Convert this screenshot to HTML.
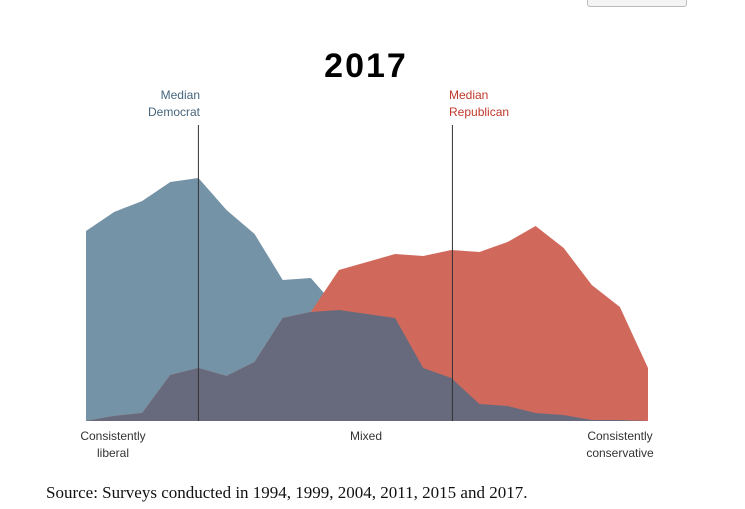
<!DOCTYPE html>
<html><head><meta charset="utf-8"><style>
body{margin:0;background:#fff;width:745px;height:509px;overflow:hidden;position:relative;font-family:"Liberation Sans",sans-serif}
.t{position:absolute;font-size:12px;color:#333;line-height:17px}
</style></head><body>
<div style="position:absolute;left:587px;top:-4px;width:98px;height:9px;border:1px solid #bbb;border-radius:3px;background:#f4f4f4"></div>
<svg width="745" height="509" style="position:absolute;left:0;top:0">
<text x="366" y="77" text-anchor="middle" font-family="Liberation Sans" font-weight="bold" font-size="34" letter-spacing="2" fill="#000">2017</text>
<g id="areas"></g>
</svg>
<div class="t" style="left:100px;top:87px;width:100px;text-align:right;color:#46667f">Median<br>Democrat</div>
<div class="t" style="left:449px;top:87px;color:#c0392b">Median<br>Republican</div>
<div class="t" style="left:66px;top:428px;width:94px;text-align:center">Consistently<br>liberal</div>
<div class="t" style="left:350px;top:428px">Mixed</div>
<div class="t" style="left:573px;top:428px;width:94px;text-align:center">Consistently<br>conservative</div>
<div style="position:absolute;left:46px;top:483px;font-family:'Liberation Serif',serif;font-size:17px;color:#111">Source: Surveys conducted in 1994, 1999, 2004, 2011, 2015 and 2017.</div>
<script>
const democrat=[190,209,220,239,243,211,187,141,143,111,107,103,53,43,17,15,8,6,1,1,0];
const republican=[0,5,8,46,53,45,59,103,109,151,159,167,165,171,169,179,195,173,136,114,53];
const medianDem=4, medianRep=13;
const x0=86,x1=648,base=421;
const n=democrat.length;
const xs=i=>x0+(x1-x0)*i/(n-1);
const ys=v=>base-v;
const g=document.getElementById('areas');
const NS='http://www.w3.org/2000/svg';
function area(vals,fill,name){
  let d='M'+xs(0)+','+base;
  vals.forEach((v,i)=>{d+=' L'+xs(i)+','+ys(v);});
  d+=' L'+xs(n-1)+','+base+' Z';
  const p=document.createElementNS(NS,'path');
  p.setAttribute('d',d);p.setAttribute('fill',fill);
  
  
  g.appendChild(p);
}
area(democrat,'#7593a6','democrat-area');
area(republican,'#d0695c','republican-area');
area(democrat.map((v,i)=>Math.min(v,republican[i])),'#676a7c','overlap-area');
function med(i,name){
  const l=document.createElementNS(NS,'line');
  l.setAttribute('x1',xs(i));l.setAttribute('x2',xs(i));
  l.setAttribute('y1',125);l.setAttribute('y2',base);
  l.setAttribute('stroke','#333');l.setAttribute('stroke-width','1');
  
  
  g.appendChild(l);
}
med(medianDem+0.0,'median-democrat-line');
med(medianRep+0.04,'median-republican-line');
</script>
</body></html>
